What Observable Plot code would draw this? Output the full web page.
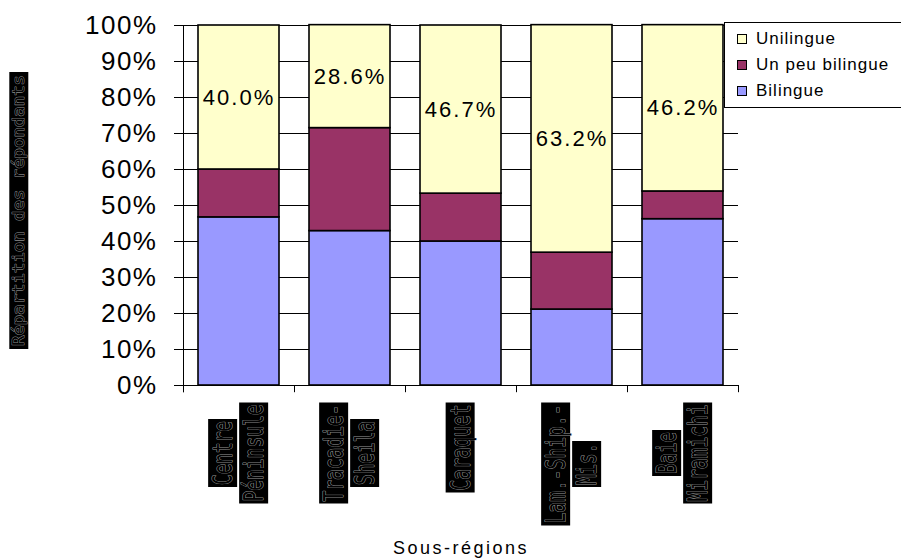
<!DOCTYPE html>
<html><head><meta charset="utf-8">
<script src="https://cdn.jsdelivr.net/npm/d3@7"></script>
<script src="https://cdn.jsdelivr.net/npm/@observablehq/plot@0.6"></script>
<style>
body{margin:0;background:#fff;font-family:"Liberation Sans",Arial,sans-serif;}
#wrap{position:relative;width:901px;height:559px;overflow:hidden;}
#legend{position:absolute;left:724px;top:22px;width:200px;height:86px;border:1px solid #000;background:#fff;box-sizing:border-box;}
.row{position:absolute;left:12px;height:20px;display:flex;align-items:center;font-size:17px;letter-spacing:1px;color:#000;}
.sw{width:8px;height:8px;border:1.5px solid #000;margin-right:9px;}
g[aria-label="y-axis tick label"] text{letter-spacing:1.5px;}
text[aria-label="pct"]{letter-spacing:2px;}
text[aria-label="xtitle"]{letter-spacing:2.5px;}
</style></head><body><div id="wrap"><div id="legend"></div></div>
<script>
// ---- data ----
const categories = ["Centre Péninsule", "Tracadie-Sheila", "Caraquet", "Lam.-Ship.-Mis.", "Baie Miramichi"];
const labelLines = [["Centre", "Péninsule"], ["Tracadie-", "Sheila"], ["Caraquet"], ["Lam.-Ship.-", "Mis."], ["Baie", "Miramichi"]];
const seriesNames = ["Bilingue", "Un peu bilingue", "Unilingue"];
const bilingue = [46.7, 42.9, 40.0, 21.1, 46.2];
const unPeuBilingue = [13.3, 28.6, 13.3, 15.8, 7.7];
const unilingue = [40.0, 28.6, 46.7, 63.2, 46.2];
const colors = ["#9999FF", "#993366", "#FFFFCC"];
const yTicks = [0, 10, 20, 30, 40, 50, 60, 70, 80, 90, 100];
const legendOrder = ["Unilingue", "Un peu bilingue", "Bilingue"];
const xTitle = "Sous-régions";
const yTitle = "Répartition des répondants";

// ---- layout ----
const W = 901, H = 559, ML = 183, MR = 163, MT = 25, MB = 174;
const step = (W - ML - MR) / categories.length;

const values = [bilingue, unPeuBilingue, unilingue];
const rows = [];
categories.forEach((c, i) => {
  let acc = 0;
  seriesNames.forEach((s, j) => {
    const v = values[j][i];
    rows.push({cat: c, series: s, value: v, y1: acc, y2: acc + v});
    acc += v;
  });
});

const labelStyle = {fontFamily: "DejaVu Sans Mono", fill: "#000", stroke: "#8c8c8c", strokeWidth: 1.2, lineAnchor: "middle"};
const xLabelMarks = [];
categories.forEach((c, i) => {
  const lines = labelLines[i];
  const n = lines.length;
  const maxLen = d3.max(lines, l => l.length) * 11 + 2;
  lines.forEach((line, j) => {
    xLabelMarks.push(Plot.text([c], {
      x: d => d, text: () => line, frameAnchor: "bottom", rotate: -90,
      dx: (j - (n - 1) / 2) * 31, dy: 17 + maxLen / 2, fontSize: 27,
      ariaLabel: () => "xlabel", ...labelStyle
    }));
  });
});

const chart = Plot.plot({
  width: W, height: H,
  marginLeft: ML, marginRight: MR, marginTop: MT, marginBottom: MB,
  style: {fontFamily: '"Liberation Sans", Arial, sans-serif', background: "#fff", color: "#000"},
  x: {domain: categories, paddingInner: 0.27, paddingOuter: 0.135, axis: null},
  y: {domain: [0, 100], axis: null},
  color: {domain: seriesNames, range: colors},
  marks: [
    Plot.ruleY(yTicks, {stroke: "#000", strokeWidth: 1}),
    Plot.barY(rows, {x: "cat", y1: "y1", y2: "y2", fill: "series", stroke: "#000", strokeWidth: 1.6}),
    Plot.text(rows.filter(d => d.series === "Unilingue"), {
      x: "cat", y: d => (d.y1 + d.y2) / 2, text: d => d.value.toFixed(1) + "%",
      fontSize: 22, fill: "#000", ariaLabel: () => "pct"
    }),
    Plot.ruleX(categories, {x: d => d, dx: -step / 2, y1: 0, y2: -2, stroke: "#000"}),
    Plot.ruleX(categories.slice(-1), {x: d => d, dx: step / 2, y1: 0, y2: -2, stroke: "#000"}),
    Plot.ruleX(categories.slice(0, 1), {x: d => d, dx: -step / 2, y1: 100, y2: -2, stroke: "#000"}),
    Plot.axisY({ticks: yTicks, tickFormat: d => d + "%", tickSize: 9, tickPadding: 17, fontSize: 26, label: null, stroke: "#000"}),
    ...xLabelMarks,
    Plot.text([yTitle], {frameAnchor: "left", rotate: -90, dx: 18.5 - ML, dy: 5, fontSize: 15, ariaLabel: () => "ytitle", ...labelStyle, strokeWidth: 0.9}),
    Plot.text([xTitle], {frameAnchor: "bottom", lineAnchor: "middle", dy: 163, fontSize: 18, fill: "#000", ariaLabel: () => "xtitle"})
  ]
});

document.getElementById("wrap").prepend(chart);

// black label boxes behind the rotated labels
function boxify(sel, charW, extra, thick) {
  chart.querySelectorAll(`text[aria-label="${sel}"]`).forEach(t => {
    const n = t.textContent.length;
    const L = n * charW - 2;
    t.setAttribute("text-anchor", "start");
    t.setAttribute("textLength", L);
    t.setAttribute("lengthAdjust", "spacingAndGlyphs");
    t.setAttribute("x", 0);
    const b1 = t.getBBox();
    const shift = -(b1.x + b1.width / 2);
    t.setAttribute("x", shift);
    const b = t.getBBox();
    const cy = b.y + b.height / 2;
    const r = document.createElementNS("http://www.w3.org/2000/svg", "rect");
    const tr = t.getAttribute("transform");
    if (tr) r.setAttribute("transform", tr);
    r.setAttribute("x", b.x - extra / 2);
    r.setAttribute("y", cy - thick / 2);
    r.setAttribute("width", b.width + extra);
    r.setAttribute("height", thick);
    r.setAttribute("fill", "#000");
    r.setAttribute("stroke", "none");
    t.parentNode.insertBefore(r, t);
  });
}
boxify("xlabel", 11, 4, 29);
boxify("ytitle", 10.5, 6, 19);

// legend
const legend = d3.select("#legend");
legendOrder.forEach((s, i) => {
  const row = legend.append("div").attr("class", "row").style("top", (6 + i * 26) + "px");
  row.append("div").attr("class", "sw").style("background", colors[seriesNames.indexOf(s)]);
  row.append("span").text(s);
});
</script>
</body></html>
